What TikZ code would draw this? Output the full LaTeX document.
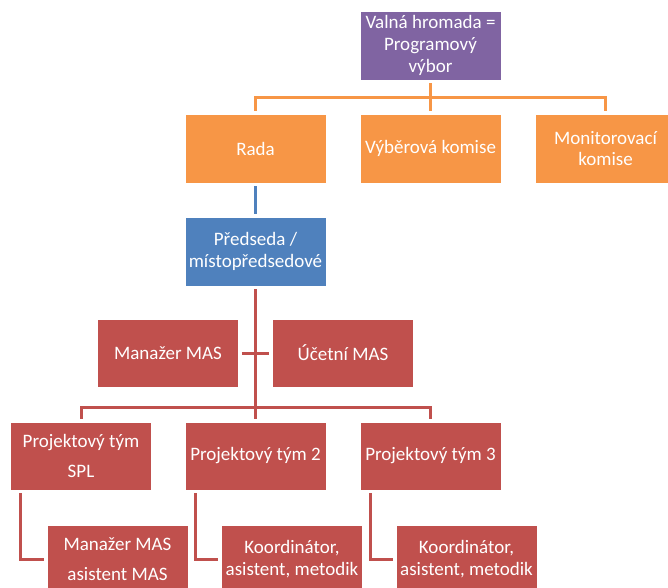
\documentclass[tikz,border=0pt]{standalone}
\usepackage{fontspec}
\setmainfont{Carlito}
\definecolor{cpurple}{HTML}{8064A2}
\definecolor{corange}{HTML}{F79646}
\definecolor{cblue}{HTML}{4F81BD}
\definecolor{cred}{HTML}{C0504D}
\tikzset{
  box/.style={draw=white, line width=0.8pt, text=white, align=center,
    minimum width=141pt, minimum height=68pt, inner sep=2pt,
    font=\fontsize{19}{21.7}\selectfont},
  widebox/.style={box, font=\fontsize{19}{30}\selectfont},
  conn/.style={line width=3pt, shorten <=3pt, shorten >=3pt},
}
\begin{document}
\begin{tikzpicture}[x=1pt, y=-1pt]
\useasboundingbox (0,0) rectangle (668,587);
\clip (0,0) rectangle (668,587);
% level 1
\node[box, fill=cpurple, minimum height=69pt] (vh) at (430.5,45.5) {Valná hromada =\\Programový\\výbor};
% level 2
\node[box, fill=corange, minimum height=69pt] (rada) at (255.5,148.5) {Rada};
\node[box, fill=corange, minimum height=69pt] (vyb) at (430.5,148.5) {Výběrová komise};
\node[box, fill=corange, minimum height=69pt] (mon) at (605.5,148.5) {Monitorovací\\komise};
% level 3
\node[box, fill=cblue, minimum height=69pt] (pred) at (255.5,251.5) {Předseda /\\místopředsedové};
% assistants
\node[box, fill=cred] (man) at (168,353) {Manažer MAS};
\node[box, fill=cred] (uce) at (343,353) {Účetní MAS};
% teams
\node[widebox, fill=cred] (p1) at (81,456) {Projektový tým\\SPL};
\node[box, fill=cred] (p2) at (255.5,456) {Projektový tým 2};
\node[box, fill=cred] (p3) at (430.5,456) {Projektový tým 3};
% sub boxes
\node[widebox, fill=cred] (s1) at (117.5,559) {Manažer MAS\\asistent MAS};
\node[box, fill=cred] (s2) at (292,559) {Koordinátor,\\asistent, metodik};
\node[box, fill=cred] (s3) at (466.5,559) {Koordinátor,\\asistent, metodik};
% orange connectors
\draw[conn, corange] (vh.south) -- ++(0,17) -| (rada.north);
\draw[conn, corange] (vh.south) -- (vyb.north);
\draw[conn, corange] (vh.south) -- ++(0,17) -| (mon.north);
% blue connector
\draw[conn, cblue, line width=2.5pt] (rada.south) -- (pred.north);
% red connectors
\draw[conn, cred] (pred.south) -- ++(0,121) -| (p1.north);
\draw[conn, cred] (pred.south) -- (p2.north);
\draw[conn, cred] (pred.south) -- ++(0,121) -| (p3.north);
\draw[conn, cred] (man.east) -- (uce.west);
\draw[conn, cred] ([xshift=10.5pt]p1.south west) |- (s1.west);
\draw[conn, cred] ([xshift=10.5pt]p2.south west) |- (s2.west);
\draw[conn, cred] ([xshift=10.5pt]p3.south west) |- (s3.west);
\end{tikzpicture}
\end{document}
